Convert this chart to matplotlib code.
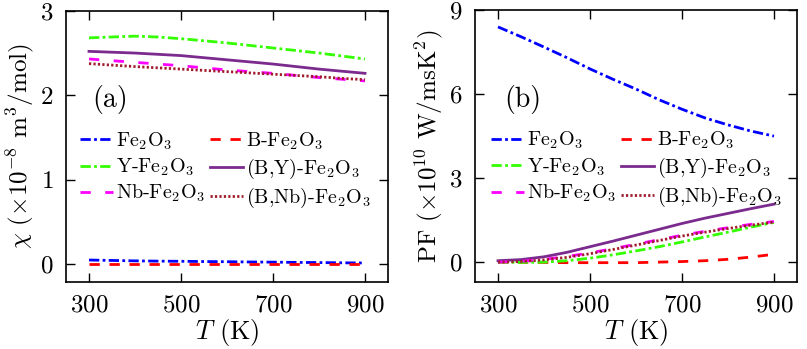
import matplotlib
matplotlib.use("Agg")
import matplotlib.pyplot as plt

plt.rcParams.update({
    "font.family": "serif",
    "font.serif": ["cmr10", "DejaVu Serif"],
    "mathtext.fontset": "cm",
    "axes.unicode_minus": False,
    "axes.formatter.use_mathtext": True,
})

temperature = [300, 350, 400, 450, 500, 550, 600, 650, 700, 750, 800, 850, 900]

labels = [r"Fe$_2$O$_3$", r"B-Fe$_2$O$_3$", r"Y-Fe$_2$O$_3$",
          r"(B,Y)-Fe$_2$O$_3$", r"Nb-Fe$_2$O$_3$", r"(B,Nb)-Fe$_2$O$_3$"]

# susceptibility (x1e-8 m^3/mol)
chi_fe2o3 = [0.05, 0.045, 0.04, 0.037, 0.035, 0.032, 0.03, 0.027, 0.025, 0.022, 0.02, 0.017, 0.015]
chi_b = [0.0, 0.0, 0.0, 0.0, 0.0, 0.0, 0.0, 0.0, 0.0, 0.0, 0.0, 0.0, 0.0]
chi_y = [2.68, 2.69, 2.70, 2.69, 2.67, 2.645, 2.62, 2.59, 2.56, 2.53, 2.50, 2.465, 2.43]
chi_by = [2.52, 2.51, 2.50, 2.485, 2.47, 2.445, 2.42, 2.395, 2.37, 2.34, 2.31, 2.285, 2.26]
chi_nb = [2.43, 2.41, 2.39, 2.37, 2.35, 2.325, 2.30, 2.28, 2.26, 2.235, 2.21, 2.19, 2.17]
chi_bnb = [2.375, 2.357, 2.34, 2.325, 2.31, 2.295, 2.28, 2.265, 2.25, 2.235, 2.22, 2.20, 2.185]

# power factor (x1e10 W/msK^2)
pf_fe2o3 = [8.4, 8.05, 7.68, 7.3, 6.9, 6.53, 6.18, 5.8, 5.46, 5.15, 4.9, 4.68, 4.5]
pf_b = [0.0, -0.01, -0.01, -0.02, -0.02, -0.02, -0.02, 0.0, 0.02, 0.05, 0.1, 0.18, 0.28]
pf_y = [0.0, -0.01, 0.0, 0.05, 0.14, 0.26, 0.4, 0.55, 0.72, 0.9, 1.07, 1.25, 1.42]
pf_by = [0.05, 0.09, 0.19, 0.35, 0.55, 0.75, 0.96, 1.17, 1.38, 1.57, 1.74, 1.91, 2.07]
pf_nb = [0.0, 0.03, 0.1, 0.2, 0.33, 0.48, 0.64, 0.8, 0.96, 1.1, 1.23, 1.35, 1.45]
pf_bnb = [0.0, 0.02, 0.08, 0.17, 0.3, 0.45, 0.61, 0.77, 0.93, 1.07, 1.2, 1.32, 1.43]

styles = [
    dict(color="#0000ff", linestyle=(0, (3.7, 1.2, 1.0, 1.2))),
    dict(color="#ff0000", linestyle=(0, (3.7, 3.5))),
    dict(color="#33ff00", linestyle=(0, (3.7, 1.2, 1.0, 1.2))),
    dict(color="#7b2a8e", linestyle="-"),
    dict(color="#ff00ff", linestyle=(0, (3.7, 5.2))),
    dict(color="#a01c2c", linestyle=(0, (0.8, 0.8))),
]
# legend is filled row by row in the reference
legend_order = [0, 2, 4, 1, 3, 5]


def style_axis(axis):
    axis.tick_params(direction="in", top=True, right=True, labelsize=18,
                     length=6.5, width=1.0, pad=9)
    for spine in axis.spines.values():
        spine.set_linewidth(1.2)
    axis.set_xlim(250, 950)
    axis.set_xticks([300, 500, 700, 900])
    axis.set_xlabel(r"$T$ (K)", fontsize=19, labelpad=0)


figure = plt.figure(figsize=(8.07, 3.49), dpi=100)
left = figure.add_axes([0.0818, 0.192, 0.399, 0.777])
right = figure.add_axes([0.5886, 0.192, 0.399, 0.779])

for series, label, style in zip([chi_fe2o3, chi_b, chi_y, chi_by, chi_nb, chi_bnb], labels, styles):
    left.plot(temperature, series, label=label, linewidth=2.0, **style)
for series, label, style in zip([pf_fe2o3, pf_b, pf_y, pf_by, pf_nb, pf_bnb], labels, styles):
    right.plot(temperature, series, label=label, linewidth=2.0, **style)

style_axis(left)
left.set_ylim(-0.21, 3)
left.set_yticks([0, 1, 2, 3])
left.set_ylabel(r"$\chi$ ($\times10^{-8}$ m$^3$/mol)", fontsize=18, labelpad=3)
left.text(308, 1.95, "(a)", fontsize=20, va="center")

style_axis(right)
right.set_ylim(-0.71, 9)
right.set_yticks([0, 3, 6, 9])
right.set_ylabel(r"PF ($\times10^{10}$ W/msK$^2$)", fontsize=18, labelpad=3)
right.text(313, 5.8, "(b)", fontsize=20, va="center")

for axis, x0 in ((left, 0.043), (right, 0.05)):
    handles, texts = axis.get_legend_handles_labels()
    axis.legend([handles[i] for i in legend_order], [texts[i] for i in legend_order],
                ncol=2, loc="upper left", bbox_to_anchor=(x0, 0.56), frameon=False,
                fontsize=14.5, handlelength=1.65, handletextpad=0.12, columnspacing=0.25,
                borderpad=0, borderaxespad=0, labelspacing=0.25)

figure.savefig("out.png", dpi=100)
